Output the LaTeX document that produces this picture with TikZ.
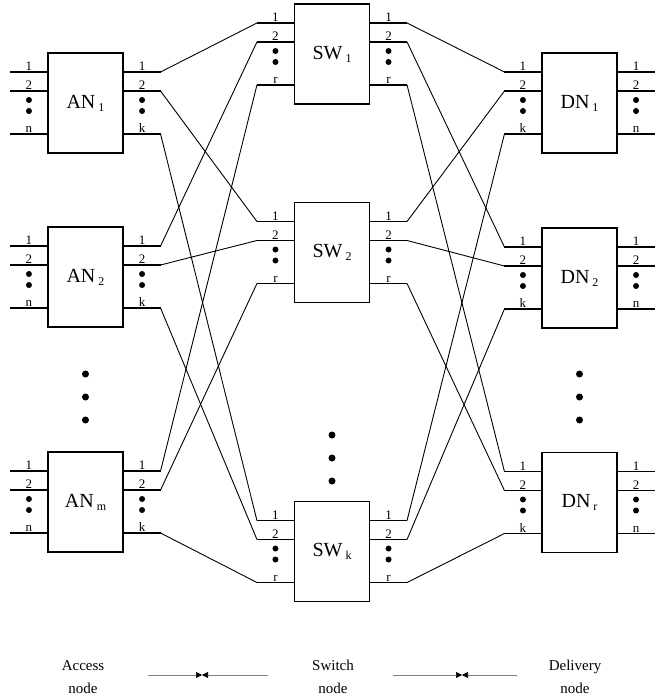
\documentclass[tikz,border=0pt]{standalone}
\usepackage{fontspec}
\setmainfont{Liberation Serif}
\usetikzlibrary{arrows.meta, calc}

% box label with lowered index
\newcommand{\blab}[2]{#1\hspace{3pt}\raisebox{-3pt}{\fontsize{12}{12}\selectfont #2}}

\tikzset{
  blk/.style={draw, line width=1.1pt, minimum width=75pt, minimum height=100pt, inner sep=0pt, font=\fontsize{20}{20}\selectfont},
  stub/.style={line width=1.2pt},
  wire/.style={line width=0.9pt},
  plbl/.style={inner sep=0.8pt, anchor=south, font=\fontsize{13}{13}\selectfont},
  pdot/.style={circle, fill, inner sep=0pt, minimum size=6pt},
  bigdot/.style={circle, fill, inner sep=0pt, minimum size=7pt},
  gapline/.style={draw=gray, line width=0.6pt, -{Triangle[length=6pt,width=6pt,color=black]}},
  capt/.style={align=center, inner sep=0pt, font=\fontsize{15}{23}\selectfont}
}

\begin{document}
\begin{tikzpicture}[x=1pt,y=-1pt]
    \useasboundingbox (0,0) rectangle (663,699);

    % Access nodes
    \node[blk] (an1) at (85.5,103) {\blab{AN}{1}};
    \node[blk] (an2) at (85.5,277) {\blab{AN}{2}};
    \node[blk] (anm) at (85.5,502) {\blab{AN}{m}};

    % Switch nodes
    \node[blk] (sw1) at (332,54) {\blab{SW}{1}};
    \node[blk] (sw2) at (332,252.5) {\blab{SW}{2}};
    \node[blk] (swk) at (332,551.5) {\blab{SW}{k}};

    % Delivery nodes
    \node[blk] (dn1) at (579.5,103) {\blab{DN}{1}};
    \node[blk] (dn2) at (579.5,278) {\blab{DN}{2}};
    \node[blk] (dnr) at (579.5,502.5) {\blab{DN}{r}};

    % ports: stubs, numbers and dots
    \foreach \b/\lt/\rt in {an1/n/k,an2/n/k,anm/n/k,sw1/r/r,sw2/r/r,swk/r/r,dn1/k/n,dn2/k/n,dnr/k/n}{
        \foreach \p/\dy in {1/-31,2/-12,3/31}{
            \coordinate (\b-l\p) at ($(\b.west)+(-37,\dy)$);
            \coordinate (\b-r\p) at ($(\b.east)+(37,\dy)$);
            \draw[stub] (\b-l\p) -- ($(\b.west)+(0,\dy)$);
            \draw[stub] (\b-r\p) -- ($(\b.east)+(0,\dy)$);
        }
        \node[plbl] (\b-la) at ($(\b.west)+(-18.5,-31.5)$) {1};
        \node[plbl] (\b-lb) at ($(\b.west)+(-18.5,-12.5)$) {2};
        \node[plbl] (\b-lc) at ($(\b.west)+(-18.5,30.5)$) {\lt};
        \node[plbl] (\b-ra) at ($(\b.east)+(18.5,-31.5)$) {1};
        \node[plbl] (\b-rb) at ($(\b.east)+(18.5,-12.5)$) {2};
        \node[plbl] (\b-rc) at ($(\b.east)+(18.5,30.5)$) {\rt};
        \node[pdot] (\b-ld1) at ($(\b.west)+(-18.5,-3)$) {};
        \node[pdot] (\b-ld2) at ($(\b.west)+(-18.5,8)$) {};
        \node[pdot] (\b-rd1) at ($(\b.east)+(18.5,-3)$) {};
        \node[pdot] (\b-rd2) at ($(\b.east)+(18.5,8)$) {};
    }

    % access -> switch: port j of AN_i to port i of SW_j
    \foreach \a/\i in {an1/1,an2/2,anm/3}{
        \foreach \s/\j in {sw1/1,sw2/2,swk/3}{
            \draw[wire] (\a-r\j) -- (\s-l\i);
        }
    }

    % switch -> delivery: port i of SW_j to port j of DN_i
    \foreach \s/\j in {sw1/1,sw2/2,swk/3}{
        \foreach \d/\i in {dn1/1,dn2/2,dnr/3}{
            \draw[wire] (\s-r\i) -- (\d-l\j);
        }
    }

    % vertical dots
    \node[bigdot] (la) at (85.5,374) {};
    \node[bigdot] (lb) at (85.5,397) {};
    \node[bigdot] (lc) at (85.5,420) {};
    \node[bigdot] (ma) at (332,435) {};
    \node[bigdot] (mb) at (332,458) {};
    \node[bigdot] (mc) at (332,481) {};
    \node[bigdot] (ra) at (579.5,374) {};
    \node[bigdot] (rb) at (579.5,397) {};
    \node[bigdot] (rc) at (579.5,420) {};

    % stage captions
    \node[capt] (acc) at (83,677) {Access\\node};
    \node[capt] (swn) at (333,677) {Switch\\node};
    \node[capt] (dln) at (575,677) {Delivery\\node};

    \coordinate (g1a) at (148,675);
    \coordinate (g1m) at (202,675);
    \coordinate (g1b) at (268,675);
    \coordinate (g2a) at (393,675);
    \coordinate (g2m) at (462,675);
    \coordinate (g2b) at (517,675);
    \draw[gapline] (g1a) -- (g1m);
    \draw[gapline] (g1b) -- (g1m);
    \draw[gapline] (g2a) -- (g2m);
    \draw[gapline] (g2b) -- (g2m);
\end{tikzpicture}
\end{document}
